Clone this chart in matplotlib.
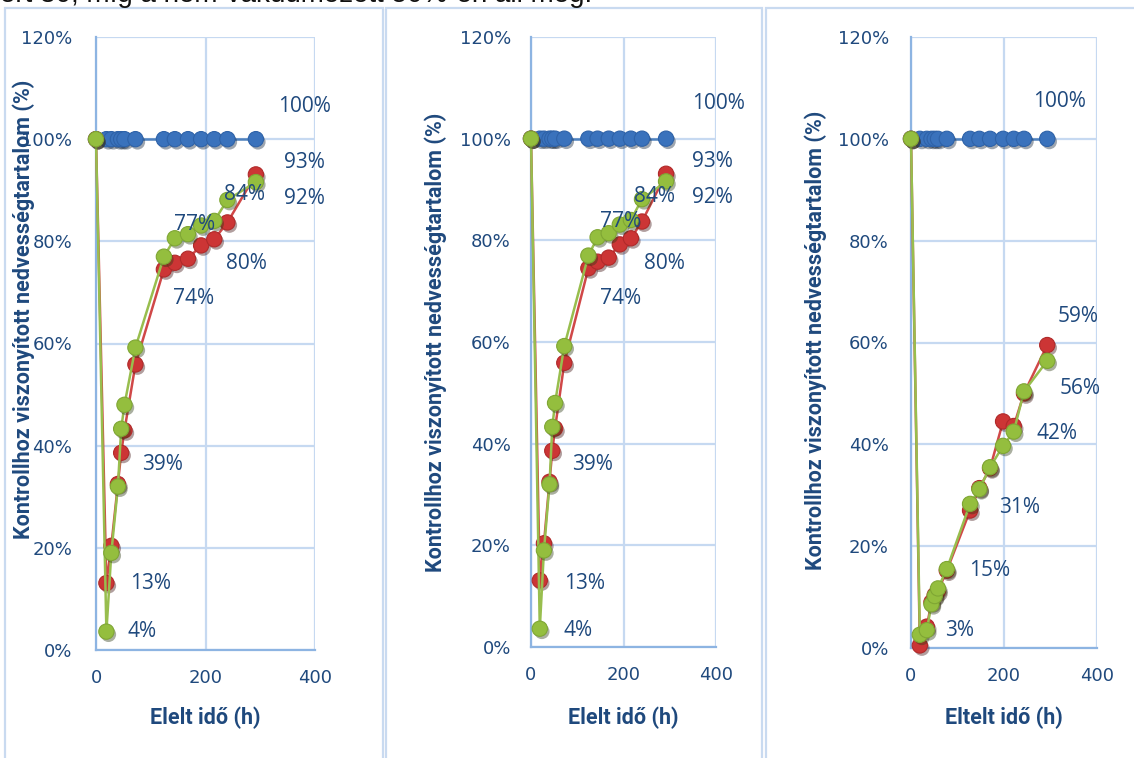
import matplotlib
matplotlib.use("Agg")
import matplotlib.pyplot as plt
import matplotlib.patheffects as pe
from matplotlib.patches import Rectangle
from matplotlib.ticker import FuncFormatter

# ---------------- data ----------------
# panels 1 and 2 (same measurement series)
time_a = [0, 19, 28, 40, 46, 52, 72, 124, 144, 168, 192, 216, 240, 292]
control_a = [100, 100, 100, 100, 100, 100, 100, 100, 100, 100, 100, 100, 100, 100]
red_a = [100, 13.1, 20.4, 32.5, 38.6, 43.0, 55.9, 74.5, 75.8, 76.6, 79.2, 80.4, 83.7, 93.1]
green_a = [100, 3.6, 19.0, 32.0, 43.3, 48.0, 59.2, 77.0, 80.6, 81.4, 83.1, 84.0, 88.1, 91.6]

# panel 3
time_c = [0, 19, 34, 44, 51, 58, 77, 127, 147, 170, 198, 221, 243, 293]
control_c = [100, 100, 100, 100, 100, 100, 100, 100, 100, 100, 100, 100, 100, 100]
red_c = [100, 0.5, 4.2, 9.0, 10.4, 11.2, 15.2, 27.0, 31.4, 35.3, 44.5, 43.6, 50.0, 59.5]
green_c = [100, 2.6, 3.5, 8.6, 10.2, 11.7, 15.5, 28.3, 31.2, 35.5, 39.7, 42.5, 50.4, 56.4]

x_ticks = [0, 200, 400]
y_ticks = [0, 20, 40, 60, 80, 100, 120]
y_title = "Kontrollhoz viszonyított nedvességtartalom (%)"
x_titles = ["Elelt idő (h)", "Elelt idő (h)", "Eltelt idő (h)"]

# data labels: (series, point index, text)
labels_a = [("control", 13, "100%"), ("red", 13, "93%"), ("green", 13, "92%"),
            ("green", 11, "84%"), ("green", 7, "77%"), ("red", 11, "80%"),
            ("red", 7, "74%"), ("red", 4, "39%"), ("red", 1, "13%"), ("green", 1, "4%")]
labels_c = [("control", 13, "100%"), ("red", 13, "59%"), ("green", 13, "56%"),
            ("green", 11, "42%"), ("green", 8, "31%"), ("green", 6, "15%"), ("green", 1, "3%")]

# ---------------- styling ----------------
W, H = 1134, 758
TXT = "#1F497D"
GRID = "#C6D9F1"
AXIS = "#8DB4E2"
BORDER = "#C9DAF0"
STY = {
    "control": dict(line="#4F81BD", face="#3A72BC", edge="#2E62A8"),
    "red": dict(line="#D04848", face="#CC3535", edge="#B02A2A"),
    "green": dict(line="#98BE4E", face="#94BE3E", edge="#7FA634"),
}

# label offsets in pixels (dx right, dy down), per panel
offs_1 = [(49, -33), (49, -12), (49, 16), (30, -26), (31, -32), (32, 24), (30, 29), (41, 12), (44, 0), (36, 0)]
offs_2 = [(52, -35), (46, -12), (46, 16), (24, -24), (32, -34), (34, 25), (32, 30), (40, 14), (45, 3), (38, 2)]
offs_3 = [(12, -37), (31, -29), (33, 28), (43, 2), (40, 18), (43, 1), (40, -4)]

panels = [
    dict(box=(96, 315, 37, 650), ylab=(24, 309), ypad=24, time=time_a, control=control_a, red=red_a,
         green=green_a, labels=labels_a, offs=offs_1, xt=x_titles[0], xlab_y=718),
    dict(box=(531, 716, 37, 647), ylab=(436, 342), ypad=20, time=time_a, control=control_a, red=red_a,
         green=green_a, labels=labels_a, offs=offs_2, xt=x_titles[1], xlab_y=718),
    dict(box=(911, 1097, 37, 648), ylab=(816, 340), ypad=22, time=time_c, control=control_c, red=red_c,
         green=green_c, labels=labels_c, offs=offs_3, xt=x_titles[2], xlab_y=718),
]

fig = plt.figure(figsize=(W / 100, H / 100), dpi=100)

# chart frames
for (l, r) in [(5, 383), (386, 762), (766, 1140)]:
    fig.patches.append(Rectangle((l / W, -0.05), (r - l) / W, 1.05 - 8 / H, transform=fig.transFigure,
                                 fill=False, edgecolor=BORDER, lw=1.6, zorder=0))

# cut-off text line from the document above
fig.text(592 / W, 1 - 2 / H, "ért 30, míg a nem-vákuumozott 50%-en áll meg.", ha="right", va="baseline",
         fontsize=20, color="#111111", family="Liberation Sans")

for p in panels:
    l, r, t, b = p["box"]
    ax = fig.add_axes([l / W, 1 - b / H, (r - l) / W, (b - t) / H])
    ax.set_xlim(0, 400)
    ax.set_ylim(0, 1.2)
    ax.set_xticks(x_ticks)
    ax.set_yticks([v / 100 for v in y_ticks])
    ax.yaxis.set_major_formatter(FuncFormatter(lambda v, _: f"{v * 100:.0f}%"))
    ax.tick_params(length=0, labelsize=13, labelcolor=TXT)
    ax.tick_params(axis="y", pad=p["ypad"] * 0.72)
    ax.tick_params(axis="x", pad=19 * 0.72)
    for lab in ax.get_xticklabels() + ax.get_yticklabels():
        lab.set_family("DejaVu Sans")
    ax.grid(True, color=GRID, lw=1.6)
    ax.set_axisbelow(True)
    for s in ("top", "right"):
        ax.spines[s].set_visible(False)
    for s in ("left", "bottom"):
        ax.spines[s].set_color(AXIS)
        ax.spines[s].set_linewidth(1.6)

    series = {"control": p["control"], "red": p["red"], "green": p["green"]}
    z = 3
    for name in ("control", "red", "green"):
        st = STY[name]
        yv = [v / 100 for v in series[name]]
        ax.plot(p["time"], yv, color=st["line"], lw=1.8, zorder=z, clip_on=False, solid_capstyle="round")
        ax.plot(p["time"], yv, ls="none", marker="o", ms=11, mfc=st["face"], mec=st["edge"], mew=0.8,
                zorder=z + 0.5, clip_on=False,
                path_effects=[pe.SimplePatchShadow(offset=(1.5, -2), alpha=0.4), pe.Normal()])
        z += 1

    for (name, i, txt), (dx, dy) in zip(p["labels"], p["offs"]):
        ax.annotate(txt, xy=(p["time"][i], series[name][i] / 100), xytext=(dx * 0.72, -dy * 0.72),
                    textcoords="offset points", ha="center", va="center", fontsize=15,
                    color=TXT, family="Open Sans", zorder=10, annotation_clip=False)

    cx = (l + r) / 2
    fig.text(cx / W, 1 - p["xlab_y"] / H, p["xt"], ha="center", va="center", fontsize=15.5,
             fontweight="bold", color=TXT, family=["Liberation Sans Narrow", "Roboto"])
    fig.text(p["ylab"][0] / W, 1 - p["ylab"][1] / H, y_title, ha="center", va="center", rotation=90,
             fontsize=15.5, fontweight="bold", color=TXT, family=["Liberation Sans Narrow", "Roboto"], zorder=20)

fig.savefig("out.png", dpi=100)
